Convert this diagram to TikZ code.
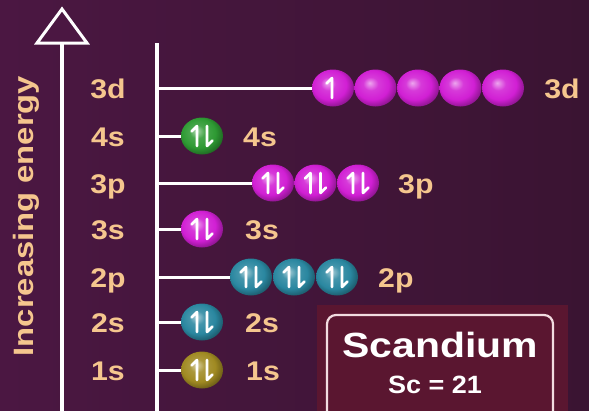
\documentclass[tikz,border=0pt]{standalone}
\usepackage{fontspec}
\usetikzlibrary{shapes.geometric}
\newfontfamily\fLab[FakeStretch=1.12]{Liberation Sans}
\newfontfamily\fWide[FakeStretch=1.17]{Liberation Sans}
\newfontfamily\fSc[FakeStretch=1.08]{Liberation Sans}
\definecolor{bgL}{HTML}{4B1742}
\definecolor{bgR}{HTML}{3A1432}
\definecolor{peach}{HTML}{F5C68E}
\definecolor{boxbg}{HTML}{5A1630}
\definecolor{boxln}{HTML}{F2DCE0}
\definecolor{cMag}{HTML}{D11FD4}
\definecolor{cGrn}{HTML}{2E9A33}
\definecolor{cTeal}{HTML}{2A87A0}
\definecolor{cGold}{HTML}{A08A22}
\newcommand\mkorbshade[2]{\pgfdeclareradialshading{#1}{\pgfpoint{-7bp}{7bp}}{color(0bp)=(#2!40!white); color(9bp)=(#2!88!white); color(20bp)=(#2); color(28bp)=(#2!70!black); color(50bp)=(#2!70!black)}}
\mkorbshade{orbMag}{cMag}
\mkorbshade{orbGrn}{cGrn}
\mkorbshade{orbTeal}{cTeal}
\mkorbshade{orbGold}{cGold}
\newcommand\orbpair[1]{%
  \draw[harp] ([shift={(-5,10)}]#1.center) -- ([shift={(-5,-10)}]#1.center) -- ([shift={(-10.5,-4.5)}]#1.center);
  \draw[harp] ([shift={(5,-10)}]#1.center) -- ([shift={(5,10)}]#1.center) -- ([shift={(10.5,4.5)}]#1.center);}
\newcommand\orbup[1]{%
  \draw[harp] ([shift={(-1,10)}]#1.center) -- ([shift={(-1,-10)}]#1.center) -- ([shift={(-6.5,-4.5)}]#1.center);}
\begin{document}
\begin{tikzpicture}[x=1pt,y=-1pt,
  orb/.style={ellipse, minimum width=42pt, minimum height=37pt, inner sep=0pt, shade},
  mag/.style={orb, shading=orbMag},
  grn/.style={orb, shading=orbGrn},
  teal/.style={orb, shading=orbTeal},
  gold/.style={orb, shading=orbGold},
  harp/.style={draw=white, line width=2.6pt, line cap=round, line join=round},
  axis/.style={draw=white, line width=3.5pt},
  conn/.style={draw=white, line width=3pt},
  lab/.style={text=peach, font=\fLab\bfseries\fontsize{27}{27}\selectfont, inner sep=0pt},
]
\shade[left color=bgL, right color=bgR] (0,0) rectangle (589,410);
\useasboundingbox (0,0) rectangle (589,410);

% energy axis
\draw[axis] (62,44) -- (62,412);
\draw[draw=white, line width=3pt, line join=miter, fill=bgL] (62,9) -- (87,43) -- (37,43) -- cycle;
\node[text=peach, font=\fWide\bfseries\fontsize{28}{28}\selectfont, inner sep=0pt, rotate=90, anchor=base] (ie) at (33,216) {Increasing energy};

% level axis
\draw[axis] (157,43) -- (157,412);
\foreach \n/\y in {3d/88,4s/136,3p/183,3s/229,2p/277,2s/322,1s/370}{
  \coordinate (ax\n) at (157,\y);
  \node[lab, anchor=base] (l\n) at (108,\y+10) {\n};
}

% 3d
\foreach \i/\x in {1/333,2/375.5,3/418,4/460.5,5/503}{
  \node[mag] (d\i) at (\x,88) {};
}
\draw[conn] (ax3d) -- (d1.west);
\orbup{d1}
\node[lab, anchor=base west] (r3d) at ([xshift=20]d5.east |- 0,98) {3d};

% 4s
\node[grn] (s4) at (202,136) {};
\draw[conn] (ax4s) -- (s4.west);
\orbpair{s4}
\node[lab, anchor=base west] (r4s) at (243,146) {4s};

% 3p
\foreach \i/\x in {1/273,2/315.5,3/358}{
  \node[mag] (p3\i) at (\x,183) {};
  \orbpair{p3\i}
}
\draw[conn] (ax3p) -- (p31.west);
\node[lab, anchor=base west] (r3p) at (398,193) {3p};

% 3s
\node[mag] (s3) at (202,229) {};
\draw[conn] (ax3s) -- (s3.west);
\orbpair{s3}
\node[lab, anchor=base west] (r3s) at (245,239) {3s};

% 2p
\foreach \i/\x in {1/251,2/294,3/337}{
  \node[teal] (p2\i) at (\x,277) {};
  \orbpair{p2\i}
}
\draw[conn] (ax2p) -- (p21.west);
\node[lab, anchor=base west] (r2p) at (378,287) {2p};

% 2s
\node[teal] (s2) at (202,322) {};
\draw[conn] (ax2s) -- (s2.west);
\orbpair{s2}
\node[lab, anchor=base west] (r2s) at (245,332) {2s};

% 1s
\node[gold] (s1) at (202,370) {};
\draw[conn] (ax1s) -- (s1.west);
\orbpair{s1}
\node[lab, anchor=base west] (r1s) at (246,380) {1s};

% element box
\fill[boxbg] (317,305) rectangle (568,412);
\draw[boxln, line width=2.2pt, rounded corners=9pt] (327,414) -- (327,315) -- (553,315) -- (553,414);
\node[text=white, font=\fWide\bfseries\fontsize{35}{35}\selectfont, inner sep=0pt, anchor=base] (scn) at (440,357) {Scandium};
\node[text=white, font=\fSc\bfseries\fontsize{25}{25}\selectfont, inner sep=0pt, anchor=base] (scz) at (435,393) {Sc = 21};
\end{tikzpicture}
\end{document}
